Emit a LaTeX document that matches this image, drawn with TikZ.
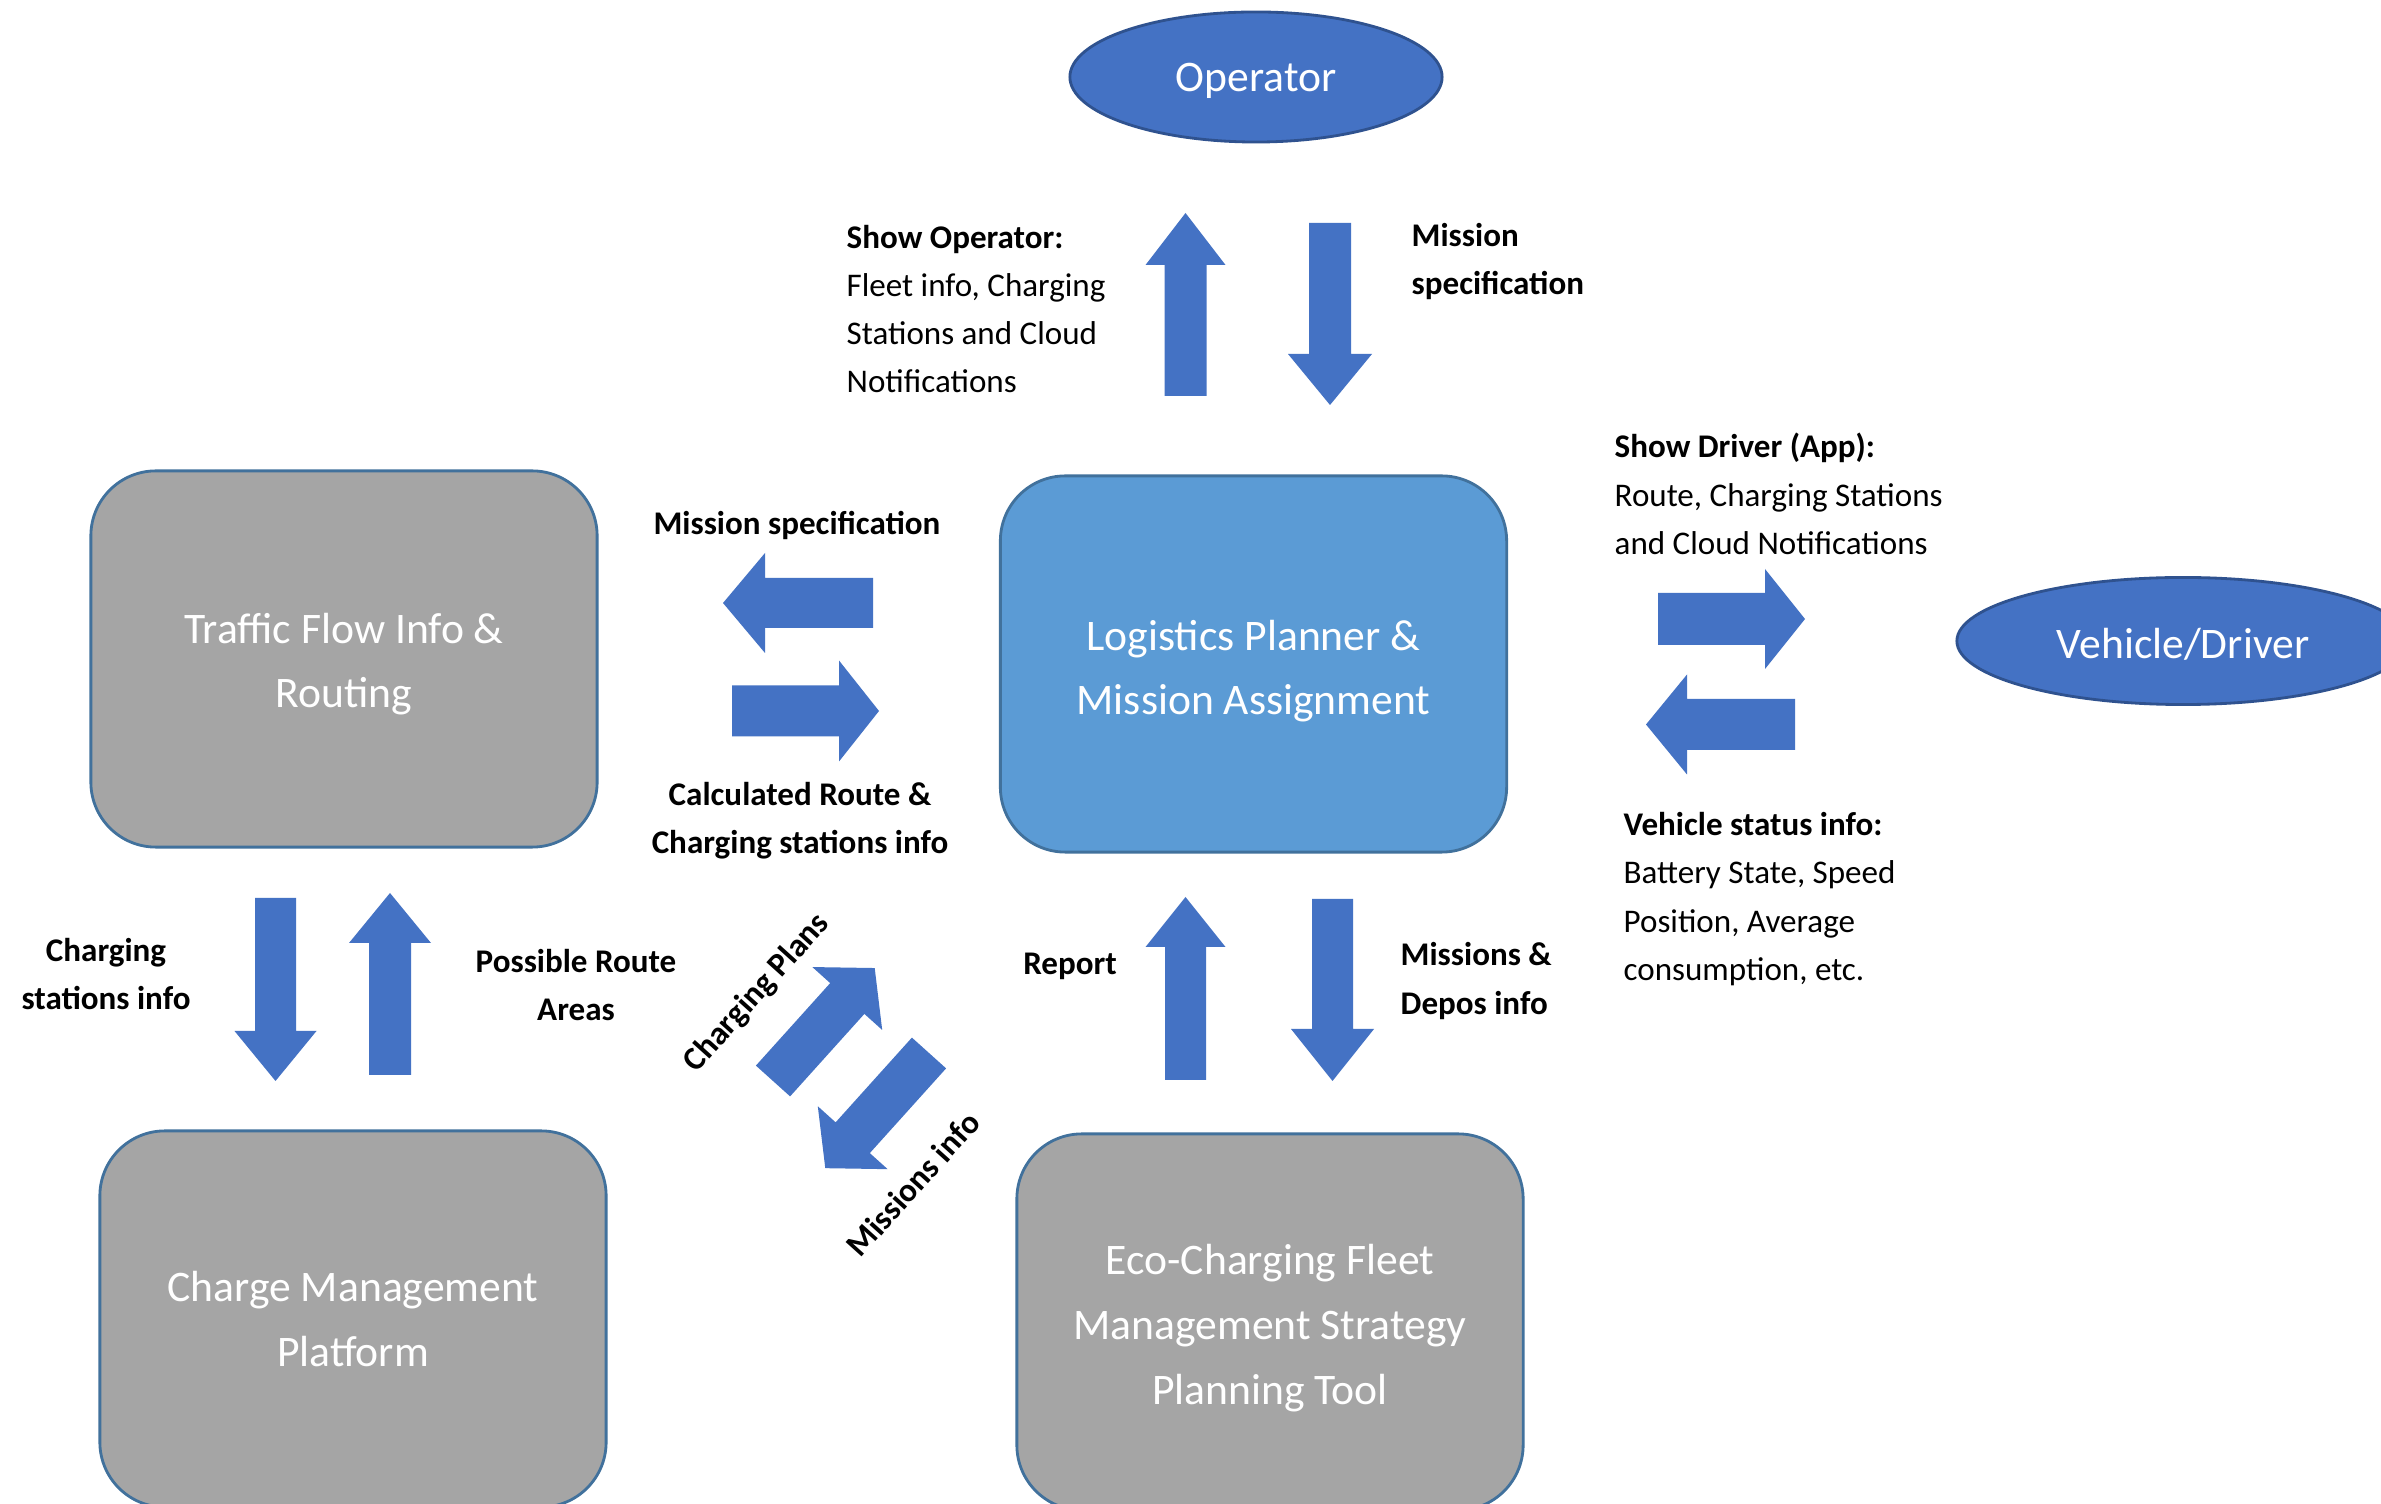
\documentclass[tikz,border=0pt]{standalone}
\usepackage{fontspec}
\setmainfont{Carlito}
\usetikzlibrary{shapes.geometric}
\definecolor{arrowblue}{HTML}{4472C4}
\definecolor{ellblue}{HTML}{4472C4}
\definecolor{ellline}{HTML}{2F528F}
\definecolor{boxgray}{HTML}{A5A5A5}
\definecolor{boxline}{HTML}{41719C}
\definecolor{lightblue}{HTML}{5B9BD5}
\tikzset{
  lbl/.style={inner sep=0pt, text=black, font=\fontsize{9.4}{13.7}\selectfont},
  lblb/.style={inner sep=0pt, text=black, font=\fontsize{9.4}{13.7}\selectfont\bfseries},
  box/.style={rectangle, rounded corners=0.65cm, draw=boxline, line width=0.8pt, fill=boxgray,
    minimum width=5.06cm, minimum height=3.76cm, inner sep=0pt},
  boxtxt/.style={text=white, align=center, inner sep=0pt, font=\fontsize{12.4}{18.4}\selectfont},
  ell/.style={ellipse, draw=ellline, line width=0.8pt, fill=ellblue, inner sep=0pt},
  pics/barrow/.style args={#1/#2/#3/#4}{code={
    \fill[arrowblue] (0,-#2) -- (#1-#4,-#2) -- (#1-#4,-#3) -- (#1,0) -- (#1-#4,#3) -- (#1-#4,#2) -- (0,#2) -- cycle;
  }}
}
\begin{document}
\begin{tikzpicture}[x=0.01cm,y=-0.01cm]
\useasboundingbox (0,0) rectangle (2381,1504);
\clip (0,0) rectangle (2381,1504);
\fill[white] (0,0) rectangle (2381,1504);

% main nodes
\node[ell, minimum width=3.72cm, minimum height=1.30cm,
  label={[boxtxt, yshift=-0.04cm]center:Operator}] (op) at (1256,77) {};
\node[ell, minimum width=4.52cm, minimum height=1.27cm,
  label={[boxtxt, yshift=-0.03cm]center:Vehicle/Driver}] (veh) at (2183,641) {};
\node[box, label={[boxtxt, yshift=-0.05cm]center:{Traffic Flow Info \&\\Routing}}] (traffic) at (344,659) {};
\node[box, fill=lightblue, label={[boxtxt, yshift=-0.07cm]center:{Logistics Planner \&\\Mission Assignment}}] (logi) at (1253.5,664) {};
\node[box, label={[boxtxt]center:{Charge Management\\Platform}}] (charge) at (353,1319) {};
\node[box, label={[boxtxt, yshift=-0.06cm]center:{Eco-Charging Fleet\\Management Strategy\\Planning Tool}}] (eco) at (1270,1322) {};

% block arrows (tail coordinates)
\coordinate (aOpUp) at (1185.5,396);
\coordinate (aOpDn) at (1330,223);
\coordinate (aMsL) at (873,603);
\coordinate (aCrR) at (732,711);
\coordinate (aDrR) at (1658,619);
\coordinate (aVsL) at (1795,724.5);
\coordinate (aCsD) at (275.5,898);
\coordinate (aPrU) at (390,1075);
\coordinate (aRpU) at (1185.5,1080);
\coordinate (aMdD) at (1332.5,899);
\coordinate (aCpU) at (773,1081);
\coordinate (aMiD) at (929,1053);

\pic[rotate=90] at (aOpUp) {barrow=183/21/40/52};
\pic[rotate=-90] at (aOpDn) {barrow=182/21/42/51};
\pic[rotate=180] at (aMsL) {barrow=150/25/50/42};
\pic at (aCrR) {barrow=147/25.5/50.5/40};
\pic at (aDrR) {barrow=147/26/50/40};
\pic[rotate=180] at (aVsL) {barrow=149/25.5/50/41};
\pic[rotate=-90] at (aCsD) {barrow=183/20.5/41/50};
\pic[rotate=90] at (aPrU) {barrow=182/21/41/50};
\pic[rotate=90] at (aRpU) {barrow=183/20.5/40/50};
\pic[rotate=-90] at (aMdD) {barrow=182/20.5/41.5/52};
\pic[rotate=48] at (aCpU) {barrow=152/23/47/41};
\pic[rotate=228] at (aMiD) {barrow=155/23/47/41};

% labels
\node[lbl, align=left, anchor=west] (tOp) at (846,309) {\textbf{Show Operator:}\\Fleet info, Charging\\Stations and Cloud\\Notifications};
\node[lblb, align=left, anchor=west] (tMs1) at (1411,261.5) {Mission\\specification};
\node[lblb] (tMs2) at (797,525) {Mission specification};
\node[lblb, align=center] (tCr) at (800,821) {Calculated Route \&\\Charging stations info};
\node[lbl, align=left, anchor=west] (tDr) at (1614,494) {\textbf{Show Driver (App):}\\Route, Charging Stations\\and Cloud Notifications};
\node[lbl, align=left, anchor=west] (tVs) at (1623,899) {\textbf{Vehicle status info:}\\Battery State, Speed\\Position, Average\\consumption, etc.};
\node[lblb, align=center] (tCs) at (106,974) {Charging\\stations info};
\node[lblb, align=center] (tPr) at (576,985) {Possible Route\\Areas};
\node[lblb] (tRp) at (1070,966) {Report};
\node[lblb, align=left, anchor=west] (tMd) at (1400,981) {Missions \&\\Depos info};
\node[lblb, rotate=48] (tCp) at (757,993) {Charging Plans};
\node[lblb, rotate=48] (tMi) at (913,1184) {Missions info};
\end{tikzpicture}
\end{document}
